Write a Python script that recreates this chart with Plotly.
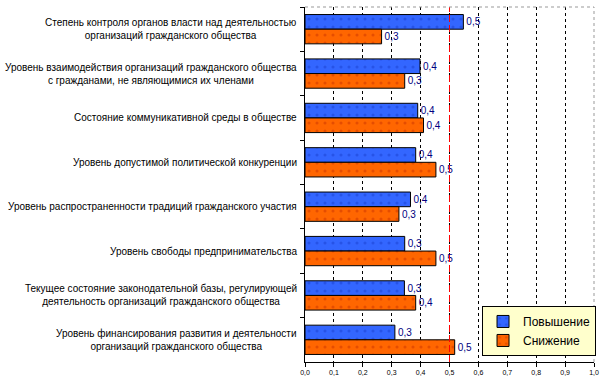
import plotly.graph_objects as go

categories = [
    "Степень контроля органов власти над деятельностью<br>организаций гражданского общества",
    "Уровень взаимодействия организаций гражданского общества<br>с гражданами, не являющимися их членами",
    "Состояние коммуникативной среды в обществе",
    "Уровень допустимой политической конкуренции",
    "Уровень распространенности традиций гражданского участия",
    "Уровень свободы предпринимательства",
    "Текущее состояние законодательной базы, регулирующей<br>деятельность организаций гражданского общества",
    "Уровень финансирования развития и деятельности<br>организаций гражданского общества",
]
increase = [0.548, 0.398, 0.390, 0.383, 0.365, 0.345, 0.344, 0.311]
decrease = [0.265, 0.345, 0.410, 0.453, 0.325, 0.453, 0.383, 0.518]
series_names = ["Повышение", "Снижение"]
x_ticks = [0.0, 0.1, 0.2, 0.3, 0.4, 0.5, 0.6, 0.7, 0.8, 0.9, 1.0]
ref_value = 0.5

FONT = "Liberation Sans, Arial"

fig = go.Figure()
fig.add_trace(go.Bar(
    y=categories, x=increase, name=series_names[0], orientation="h",
    marker=dict(color="#3366FF", line=dict(color="black", width=1),
                pattern=dict(shape=".", fgcolor="#1a3fd0", size=8, solidity=0.12)),
    texttemplate="%{x:.1f}", textposition="outside", cliponaxis=False,
    textfont=dict(family=FONT, size=10, color="#000080"),
))
fig.add_trace(go.Bar(
    y=categories, x=decrease, name=series_names[1], orientation="h",
    marker=dict(color="#FF6600", line=dict(color="black", width=1),
                pattern=dict(shape=".", fgcolor="#cc3300", size=8, solidity=0.12)),
    texttemplate="%{x:.1f}", textposition="outside", cliponaxis=False,
    textfont=dict(family=FONT, size=10, color="#000080"),
))

for c in categories:
    fig.add_annotation(
        x=0, xref="x domain", y=c, yref="y", text=c, showarrow=False,
        xanchor="right", yanchor="middle", align="center", xshift=-6,
        font=dict(family=FONT, size=10, color="black"),
    )

fig.add_shape(type="line", x0=ref_value, x1=ref_value, y0=0, y1=1,
              xref="x", yref="y domain", layer="above",
              line=dict(color="red", width=1, dash="7px,3px"))
fig.add_shape(type="line", x0=0, x1=1, y0=1, y1=1, xref="x domain", yref="y domain",
              line=dict(color="#999999", width=1, dash="dot"))
fig.add_shape(type="line", x0=1, x1=1, y0=0, y1=1, xref="x domain", yref="y domain",
              line=dict(color="#999999", width=1, dash="dot"))

fig.update_layout(
    width=604, height=384,
    margin=dict(l=305, r=10, t=7, b=22, autoexpand=False),
    paper_bgcolor="white", plot_bgcolor="white",
    separators=", ",
    barmode="group", bargap=0.34, bargroupgap=0,
    showlegend=True,
    legend=dict(x=1.007, y=0.017, xanchor="right", yanchor="bottom",
                bgcolor="#FFFFCC", bordercolor="black", borderwidth=1,
                font=dict(family=FONT, size=12, color="black"),
                itemwidth=30, tracegroupgap=0),
    xaxis=dict(range=[0, 1], tickvals=x_ticks, tickformat=".1f",
               showgrid=True, gridcolor="black", griddash="3px,3px", gridwidth=1,
               zeroline=False, showline=True, linecolor="black", linewidth=1,
               ticks="outside", ticklen=4, tickcolor="black",
               tickfont=dict(family=FONT, size=7, color="black")),
    yaxis=dict(autorange="reversed", showticklabels=False, showgrid=False,
               showline=True, linecolor="black", linewidth=1,
               ticks="outside", ticklen=4, tickcolor="black", tickson="boundaries"),
)

fig.write_html("out.html", config={"displayModeBar": False},
               post_script="document.body.style.margin='0';")
